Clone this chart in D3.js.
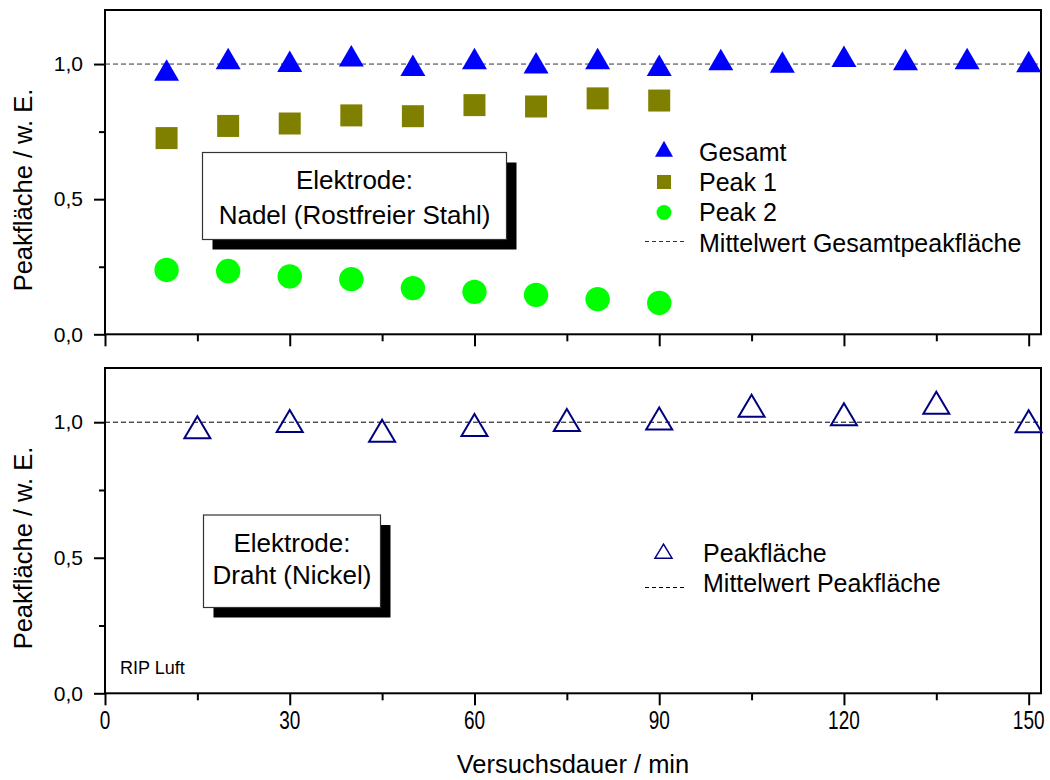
<!DOCTYPE html>
<html>
<head>
<meta charset="utf-8">
<script src="https://cdn.jsdelivr.net/npm/d3@7"></script>
<style>
  body { margin: 0; background: #fff; }
  svg { display: block; font-family: "Liberation Sans", Arial, sans-serif; }
</style>
</head>
<body>
<div id="chart"></div>
<script>
// values
var timeTop = [10, 20, 30, 40, 50, 60, 70, 80, 90, 100, 110, 120, 130, 140, 150];
var gesamt = [0.965, 1.007, 0.997, 1.017, 0.982, 1.007, 0.992, 1.007, 0.982, 1.004, 0.994, 1.016, 1.004, 1.007, 0.996];
var timePeaks = [10, 20, 30, 40, 50, 60, 70, 80, 90];
var peak1 = [0.726, 0.771, 0.780, 0.810, 0.807, 0.848, 0.843, 0.873, 0.865];
var peak2 = [0.238, 0.234, 0.214, 0.204, 0.171, 0.157, 0.146, 0.130, 0.116];
var timeBottom = [15, 30, 45, 60, 75, 90, 105, 120, 135, 150];
var peakflaeche = [0.968, 0.991, 0.955, 0.976, 0.995, 1.000, 1.047, 1.016, 1.058, 0.990];
var meanTop = 1.0, meanBottom = 1.0;

var xMajor = [0, 30, 60, 90, 120, 150], xMinor = [15, 45, 75, 105, 135];
var yMajor = [0, 0.5, 1.0], yMinor = [0.25, 0.75];
var legendTop = ["Gesamt", "Peak 1", "Peak 2", "Mittelwert Gesamtpeakfläche"];
var legendBottom = ["Peakfläche", "Mittelwert Peakfläche"];

var width = 1050, height = 780;
var left = 105, right = 1041;
var panels = [{ top: 10, bottom: 334.3 }, { top: 368, bottom: 693.3 }];

var svg = d3.select("#chart").append("svg").attr("width", width).attr("height", height);

var x = d3.scaleLinear().domain([0, 152]).range([left, right]);
var yTop = d3.scaleLinear().domain([0, 1.2]).range([panels[0].bottom, panels[0].top]);
var yBot = d3.scaleLinear().domain([0, 1.2]).range([panels[1].bottom, panels[1].top]);

// triangle centred on its centroid
function tri(w, h) {
    return `M0,${-2 * h / 3}L${w / 2},${h / 3}L${-w / 2},${h / 3}Z`;
}
var comma = v => d3.format(".1f")(v).replace(".", ",");

function drawFrame(y, p, showLabels) {
    var g = svg.append("g");
    g.append("g").attr("transform", `translate(0,${p.bottom})`)
        .call(d3.axisBottom(x).tickValues(xMajor).tickSize(12).tickSizeOuter(0).tickFormat(""))
        .call(a => a.select(".domain").remove());
    g.append("g").attr("transform", `translate(0,${p.bottom})`)
        .call(d3.axisBottom(x).tickValues(xMinor).tickSize(7).tickSizeOuter(0).tickFormat(""))
        .call(a => a.select(".domain").remove());
    g.append("g").attr("transform", `translate(${left},0)`)
        .call(d3.axisLeft(y).tickValues(yMajor).tickSize(11).tickSizeOuter(0).tickPadding(11).tickFormat(comma))
        .call(a => a.select(".domain").remove())
        .call(a => a.selectAll("text").attr("font-size", 21).attr("font-family", "Liberation Sans, Arial").attr("fill", "#000"));
    g.append("g").attr("transform", `translate(${left},0)`)
        .call(d3.axisLeft(y).tickValues(yMinor).tickSize(6).tickSizeOuter(0).tickFormat(""))
        .call(a => a.select(".domain").remove());
    g.selectAll(".tick line").attr("stroke", "#000").attr("stroke-width", 2);

    g.append("rect").attr("x", left).attr("y", p.top)
        .attr("width", right - left).attr("height", p.bottom - p.top)
        .attr("fill", "none").attr("stroke", "#000").attr("stroke-width", 2);

    g.append("text")
        .attr("transform", `translate(32,${p.top + 180}) rotate(-90)`)
        .attr("text-anchor", "middle").attr("font-size", 25.5)
        .text("Peakfläche / w. E.");

    if (showLabels) {
        g.selectAll("text.xlab").data(xMajor).enter().append("text")
            .attr("class", "xlab")
            .attr("transform", d => `translate(${x(d)},729) scale(0.76,1)`)
            .attr("text-anchor", "middle").attr("font-size", 25)
            .text(d => d);
    }
}

drawFrame(yTop, panels[0], false);
drawFrame(yBot, panels[1], true);

svg.append("text").attr("x", (left + right) / 2).attr("y", 773)
    .attr("text-anchor", "middle").attr("font-size", 25.5)
    .text("Versuchsdauer / min");

// mean lines
svg.append("line").attr("x1", left).attr("x2", right)
    .attr("y1", yTop(meanTop)).attr("y2", yTop(meanTop))
    .attr("stroke", "#333").attr("stroke-width", 1).attr("stroke-dasharray", "5,3");
svg.append("line").attr("x1", left).attr("x2", right)
    .attr("y1", yBot(meanBottom)).attr("y2", yBot(meanBottom))
    .attr("stroke", "#000").attr("stroke-width", 1).attr("stroke-dasharray", "5,3");

// text boxes with shadow
function noteBox(bx, by, bw, bh, lines, baselines, fs) {
    var g = svg.append("g");
    g.append("rect").attr("x", bx + 10).attr("y", by + 10).attr("width", bw).attr("height", bh).attr("fill", "#000");
    g.append("rect").attr("x", bx).attr("y", by).attr("width", bw).attr("height", bh)
        .attr("fill", "#fff").attr("stroke", "#333").attr("stroke-width", 1.2);
    lines.forEach((t, i) => {
        g.append("text").attr("x", bx + bw / 2).attr("y", baselines[i])
            .attr("text-anchor", "middle").attr("font-size", fs).text(t);
    });
}
noteBox(202.5, 152.5, 304, 87, ["Elektrode:", "Nadel (Rostfreier Stahl)"], [188.5, 224], 26);
noteBox(203.5, 515, 177, 92.5, ["Elektrode:", "Draht (Nickel)"], [551.5, 583.5], 26);

svg.append("text").attr("x", 120).attr("y", 674).attr("font-size", 18).text("RIP Luft");

// top panel markers
svg.append("g").selectAll("circle").data(timePeaks).enter().append("circle")
    .attr("cx", d => x(d)).attr("cy", (d, i) => yTop(peak2[i])).attr("r", 12.2)
    .attr("fill", "#00ff00");
svg.append("g").selectAll("rect").data(timePeaks).enter().append("rect")
    .attr("x", d => x(d) - 11).attr("y", (d, i) => yTop(peak1[i]) - 11)
    .attr("width", 22).attr("height", 22).attr("fill", "#808000");
svg.append("g").selectAll("path").data(timeTop).enter().append("path")
    .attr("transform", (d, i) => `translate(${x(d)},${yTop(gesamt[i])})`)
    .attr("d", tri(25, 21.5)).attr("fill", "#0000ff");

// bottom panel markers
svg.append("g").selectAll("path").data(timeBottom).enter().append("path")
    .attr("transform", (d, i) => `translate(${x(d)},${yBot(peakflaeche[i])})`)
    .attr("d", tri(26, 22)).attr("fill", "none").attr("stroke", "#000080").attr("stroke-width", 2);

// legends
var lx = 664, tx = 699;
var lgTop = svg.append("g");
lgTop.append("path").attr("transform", "translate(664,151.5)").attr("d", tri(18, 16)).attr("fill", "#0000ff");
lgTop.append("rect").attr("x", lx - 7).attr("y", 175).attr("width", 14).attr("height", 14).attr("fill", "#808000");
lgTop.append("circle").attr("cx", lx).attr("cy", 212.5).attr("r", 7.5).attr("fill", "#00ff00");
lgTop.append("line").attr("x1", 645).attr("x2", 687).attr("y1", 241.5).attr("y2", 241.5)
    .attr("stroke", "#333").attr("stroke-dasharray", "4,3");
lgTop.selectAll("text").data(legendTop).enter().append("text")
    .attr("x", tx).attr("y", (d, i) => 160.5 + i * 30.4).attr("font-size", 25).text(d => d);

var lgBot = svg.append("g");
lgBot.append("path").attr("transform", "translate(663.5,553.5)").attr("d", tri(17, 14)).attr("fill", "none")
    .attr("stroke", "#000080").attr("stroke-width", 1.5);
lgBot.append("line").attr("x1", 645).attr("x2", 687).attr("y1", 587.5).attr("y2", 587.5)
    .attr("stroke", "#000").attr("stroke-dasharray", "4,3");
lgBot.selectAll("text").data(legendBottom).enter().append("text")
    .attr("x", 703).attr("y", (d, i) => 561.5 + i * 30.8).attr("font-size", 25).text(d => d);
</script>
</body>
</html>
